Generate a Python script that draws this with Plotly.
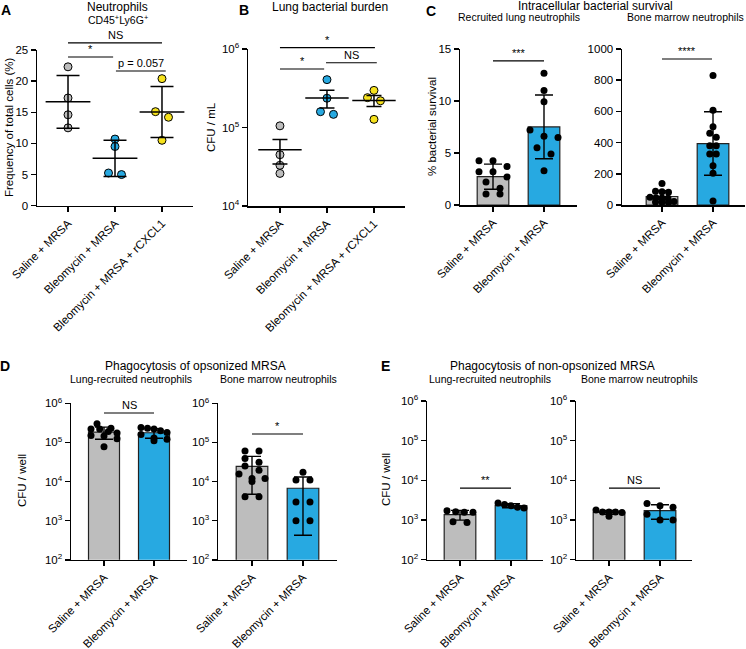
import numpy as np
import plotly.graph_objects as go

W, H = 746, 649

# ---------------- data ----------------
GROUPS3 = ["Saline + MRSA", "Bleomycin + MRSA", "Bleomycin + MRSA + rCXCL1"]
GROUPS2 = ["Saline + MRSA", "Bleomycin + MRSA"]

A_SALINE = [22.3, 17.3, 14.6, 12.5]
A_BLEO = [10.7, 9.5, 5.25, 5.0]
A_RCXCL1 = [20.4, 15.1, 14.2, 10.5]

B_SALINE = [1.05e5, 4.5e4, 3.3e4, 2.6e4]
B_BLEO = [4.07e5, 2.36e5, 1.59e5, 1.47e5]
B_RCXCL1 = [2.97e5, 2.4e5, 2.19e5, 1.27e5]

C1_SALINE = [4.25, 4.25, 3.7, 3.2, 3.2, 2.7, 2.2, 1.6, 1.05, 1.05]
C1_BLEO = [12.66, 11.0, 9.93, 7.2, 6.6, 6.5, 5.5, 4.9, 3.3]
C2_SALINE = [138, 88, 85, 82, 50, 47, 45, 43, 22, 20, 18, 16]
C2_BLEO = [830, 608, 502, 460, 434, 380, 380, 327, 327, 252, 203, 25]

D1_SALINE = [3.0e5, 2.3e5, 2.2e5, 2.2e5, 1.9e5, 1.75e5, 1.5e5, 1.45e5, 1.25e5, 7.8e4]
D1_BLEO = [2.4e5, 2.3e5, 2.2e5, 2.0e5, 1.8e5, 1.6e5, 1.3e5, 1.2e5, 1.1e5]
D2_SALINE = [6.0e4, 6.0e4, 3.9e4, 3.1e4, 2.5e4, 1.95e4, 1.55e4, 1.2e4, 1.2e4, 1.0e4, 4.1e3, 4.1e3]
D2_BLEO = [1.72e4, 1.1e4, 1.1e4, 3.0e3, 3.0e3, 1.0e3, 1.0e3]

E1_SALINE = [1.72e3, 1.62e3, 1.56e3, 1.56e3, 905, 870]
E1_BLEO = [2.7e3, 2.45e3, 2.3e3, 2.1e3, 2.0e3]
E2_SALINE = [1.8e3, 1.6e3, 1.6e3, 1.6e3, 1.55e3, 1.25e3]
E2_BLEO = [2.6e3, 2.3e3, 2.1e3, 1.4e3, 1.0e3, 1.0e3]

A_TICKS = [0, 5, 10, 15, 20, 25]
C1_TICKS = [0, 5, 10, 15]
C2_TICKS = [0, 200, 400, 600, 800, 1000]
B_TICKS = [1e4, 1e5, 1e6]
DE_TICKS = [1e2, 1e3, 1e4, 1e5, 1e6]

# ---------------- styles / layout ----------------
GRAY = "#bdbdbd"
BLUE = "#27a9e1"
YELLOW = "#f6e21c"
FONT = "Liberation Sans, Arial, sans-serif"

PANELS = {
    "A":  dict(n=1, xd=(37, 193),  yd=(50, 205.7),    xr=(-0.66, 2.66),   yr=(0, 25),    log=False),
    "B":  dict(n=2, xd=(248, 405), yd=(49, 206),      xr=(-0.68, 2.66),   yr=(4, 6),     log=True),
    "C1": dict(n=3, xd=(460, 577), yd=(49, 205),      xr=(-0.647, 1.647), yr=(0, 15),    log=False),
    "C2": dict(n=4, xd=(622, 745), yd=(49, 205),      xr=(-0.784, 1.627), yr=(0, 1000),  log=False),
    "D1": dict(n=5, xd=(71, 187),  yd=(403.3, 559.8), xr=(-0.66, 1.66),   yr=(2, 6),     log=True),
    "D2": dict(n=6, xd=(218, 337), yd=(403.3, 559.8), xr=(-0.667, 1.667), yr=(2, 6),     log=True),
    "E1": dict(n=7, xd=(427, 543), yd=(401, 559.7),   xr=(-0.647, 1.627), yr=(2, 6),     log=True),
    "E2": dict(n=8, xd=(576, 692), yd=(401, 559.7),   xr=(-0.647, 1.627), yr=(2, 6),     log=True),
}


def ypx_above(p, v):
    v = np.asarray(v, dtype=float)
    t = np.log10(v) if p["log"] else v
    return (t - p["yr"][0]) / (p["yr"][1] - p["yr"][0]) * (p["yd"][1] - p["yd"][0])


def xunit(p):
    return (p["xd"][1] - p["xd"][0]) / (p["xr"][1] - p["xr"][0])


def paper_xy(p, x, v):
    xpx = p["xd"][0] + (x - p["xr"][0]) * xunit(p)
    ypx = p["yd"][1] - float(ypx_above(p, v))
    return xpx / W, 1 - ypx / H


def swarm(p, vals, c, s, maxw):
    ypx = ypx_above(p, vals)
    order = np.argsort(-ypx, kind="stable")
    rows = []
    for i in order:
        if rows and ypx[rows[-1][0]] - ypx[i] < c:
            rows[-1].append(i)
        else:
            rows.append([i])
    off = np.zeros(len(vals))
    for r in rows:
        n = len(r)
        if n > 1:
            step = min(s, maxw / (n - 1))
            for k, i in enumerate(r):
                off[i] = (k - (n - 1) / 2) * step
    return off / xunit(p)


def axref(p):
    n = p["n"]
    return ("x" if n == 1 else f"x{n}"), ("y" if n == 1 else f"y{n}")


fig = go.Figure()


def dot_panel(key, groups, colors, err="sd", capw=11, meanw=32, c=7, s=13):
    p = PANELS[key]
    xa, ya = axref(p)
    for g, (vals, col) in enumerate(zip(groups, colors)):
        vals = np.asarray(vals, dtype=float)
        off = swarm(p, vals, c, s, 26)
        fig.add_trace(go.Scatter(
            x=g + off, y=vals, mode="markers", xaxis=xa, yaxis=ya, cliponaxis=False,
            marker=dict(size=8, color=col, line=dict(color="black", width=1))))
    for g, vals in enumerate(groups):
        vals = np.asarray(vals, dtype=float)
        m = vals.mean()
        sd = vals.std(ddof=1)
        e = sd if err == "sd" else sd / np.sqrt(len(vals))
        fig.add_trace(go.Scatter(
            x=[g], y=[m], mode="markers", xaxis=xa, yaxis=ya, cliponaxis=False,
            marker=dict(symbol="line-ew", size=meanw, line=dict(color="black", width=1.5)),
            error_y=dict(type="data", array=[e], visible=True, thickness=1.5,
                         width=capw, color="black")))


def bar_panel(key, groups, c=6, s=14, maxw=26):
    p = PANELS[key]
    xa, ya = axref(p)
    means = [float(np.mean(v)) for v in groups]
    sds = [float(np.std(v, ddof=1)) for v in groups]
    fig.add_trace(go.Bar(
        x=list(range(len(groups))), y=means, width=0.62, xaxis=xa, yaxis=ya,
        marker=dict(color=[GRAY, BLUE], line=dict(color="#222222", width=1.2)),
        error_y=dict(type="data", array=sds, visible=True, thickness=1.4,
                     width=9, color="black")))
    for g, vals in enumerate(groups):
        vals = np.asarray(vals, dtype=float)
        off = swarm(p, vals, c, s, maxw)
        fig.add_trace(go.Scatter(
            x=g + off, y=vals, mode="markers", xaxis=xa, yaxis=ya, cliponaxis=False,
            marker=dict(size=7, color="black")))


dot_panel("A", [A_SALINE, A_BLEO, A_RCXCL1], [GRAY, BLUE, YELLOW], "sd", 11.5, 32, 7, 13)
dot_panel("B", [B_SALINE, B_BLEO, B_RCXCL1], [GRAY, BLUE, YELLOW], "sem", 7.5, 31, 7, 13)
bar_panel("C1", [C1_SALINE, C1_BLEO], c=8, s=14, maxw=28)
bar_panel("C2", [C2_SALINE, C2_BLEO], c=4.5, s=6.5, maxw=24)
bar_panel("D1", [D1_SALINE, D1_BLEO], c=5, s=14, maxw=26)
bar_panel("D2", [D2_SALINE, D2_BLEO], c=6, s=14, maxw=26)
bar_panel("E1", [E1_SALINE, E1_BLEO], c=6, s=14, maxw=26)
bar_panel("E2", [E2_SALINE, E2_BLEO], c=6, s=14, maxw=26)

# ---------------- axes ----------------
common = dict(showgrid=False, zeroline=False, showline=True, linecolor="black",
              linewidth=1.5, ticks="outside", ticklen=5, tickwidth=1.5,
              tickcolor="black", tickfont=dict(size=11.5, color="black", family=FONT),
              fixedrange=True, automargin=False)


def logtext(ticks):
    return [f"10<sup>{int(round(np.log10(t)))}</sup>" for t in ticks]


YTICKS = {
    "A": (A_TICKS, [str(t) for t in A_TICKS]),
    "B": (B_TICKS, logtext(B_TICKS)),
    "C1": (C1_TICKS, [str(t) for t in C1_TICKS]),
    "C2": (C2_TICKS, [str(t) for t in C2_TICKS]),
    "D1": (DE_TICKS, logtext(DE_TICKS)),
    "D2": (DE_TICKS, logtext(DE_TICKS)),
    "E1": (DE_TICKS, logtext(DE_TICKS)),
    "E2": (DE_TICKS, logtext(DE_TICKS)),
}

lay = {}
for key, p in PANELS.items():
    n = p["n"]
    xa, ya = axref(p)
    cats = GROUPS3 if key in ("A", "B") else GROUPS2
    xname = "xaxis" if n == 1 else f"xaxis{n}"
    yname = "yaxis" if n == 1 else f"yaxis{n}"
    lay[xname] = dict(common, domain=[p["xd"][0] / W, p["xd"][1] / W], anchor=ya,
                      range=list(p["xr"]), tickmode="array",
                      tickvals=list(range(len(cats))), ticktext=cats, tickangle=-45,
                      tickfont=dict(size=11.5, color="black", family=FONT))
    tv, tt = YTICKS[key]
    yd = dict(common, domain=[1 - p["yd"][1] / H, 1 - p["yd"][0] / H], anchor=xa,
              range=list(p["yr"]), tickmode="array", tickvals=tv, ticktext=tt)
    if p["log"]:
        yd["type"] = "log"
    lay[yname] = yd

fig.update_layout(**lay)

# ---------------- annotations ----------------
ann = []
shapes = []


def text(x, y, t, size=11, bold=False, angle=0):
    ann.append(dict(x=x / W, y=1 - y / H, xref="paper", yref="paper", text=(f"<b>{t}</b>" if bold else t),
                    showarrow=False, xanchor="center", yanchor="middle", textangle=angle,
                    font=dict(size=size, color="black", family=FONT)))


# panel letters
for t, x, y in [("A", 6, 10), ("B", 244, 10), ("C", 431, 11), ("D", 5, 366), ("E", 385, 366)]:
    text(x, y, t, 14, bold=True)

# titles
text(117.5, 7, "Neutrophils", 12)
text(118, 19, "CD45<sup>+</sup>Ly6G<sup>+</sup>", 10.5)
text(330, 7, "Lung bacterial burden", 12)
text(595, 6, "Intracellular bacterial survival", 12)
text(519, 17.5, "Recruited lung neutrophils", 10.5)
text(685, 17.5, "Bone marrow neutrophils", 10.5)
text(195, 366, "Phagocytosis of opsonized MRSA", 12)
text(131, 379, "Lung-recruited neutrophils", 10.5)
text(278, 379, "Bone marrow neutrophils", 10.5)
text(552, 366, "Phagocytosis of non-opsonized MRSA", 12)
text(490, 379, "Lung-recruited neutrophils", 10.5)
text(639, 379, "Bone marrow neutrophils", 10.5)

# y titles
text(9, 127, "Frequency of total cells (%)", 11.5, angle=-90)
text(211, 127, "CFU / mL", 11.5, angle=-90)
text(432, 127, "% bacterial survival", 11.5, angle=-90)
text(22, 481, "CFU / well", 11.5, angle=-90)
text(386, 480, "CFU / well", 11.5, angle=-90)

# significance bars
SIG = [
    ("A", 0, 2, 26.13, "NS"), ("A", 0, 0.96, 23.88, "*"), ("A", 1.02, 2.08, 21.63, "p = 0.057"),
    ("B", 0, 2.02, 1.04e6, "*"), ("B", 0, 0.94, 5.56e5, "*"), ("B", 0.98, 2.06, 6.68e5, "NS"),
    ("C1", 0, 1, 13.85, "***"), ("C2", 0, 0.98, 936, "****"),
    ("D1", 0, 1, 5.65e5, "NS"), ("D2", 0, 1, 1.64e5, "*"),
    ("E1", 0, 1, 6.4e3, "**"), ("E2", 0, 1, 6.4e3, "NS"),
]
for key, x0, x1, lvl, lab in SIG:
    p = PANELS[key]
    px0, py0 = paper_xy(p, x0, lvl)
    px1, _ = paper_xy(p, x1, lvl)
    shapes.append(dict(type="line", xref="paper", yref="paper", x0=px0, x1=px1, y0=py0, y1=py0,
                       line=dict(color="black", width=1.2)))
    ann.append(dict(x=(px0 + px1) / 2, y=py0, xref="paper", yref="paper", text=lab,
                    showarrow=False, xanchor="center", yanchor="bottom", yshift=0,
                    font=dict(size=11, color="black", family=FONT)))

fig.update_layout(
    width=W, height=H, margin=dict(l=0, r=0, t=0, b=0, autoexpand=False),
    plot_bgcolor="white", paper_bgcolor="white", showlegend=False,
    font=dict(family=FONT, size=11, color="black"),
    annotations=ann, shapes=shapes, bargap=0, hovermode=False,
)

fig.write_html("out.html", config={"displayModeBar": False, "staticPlot": True},
               post_script="document.body.style.margin='0';document.body.style.padding='0';")
